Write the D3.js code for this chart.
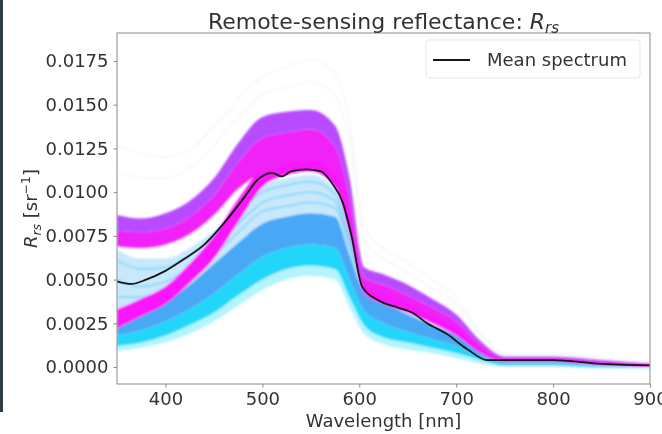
<html>
<head>
<script src="https://d3js.org/d3.v7.min.js"></script>
<style>
  body { margin: 0; background: #fff; overflow: hidden; }
  svg { display: block; }
  svg text { font-family: "DejaVu Sans", sans-serif; fill: #333; }
</style>
</head>
<body>
<script>
// wavelength grid shared by the band outlines [nm]
var wavelengths = [350, 375, 400, 425, 450, 475, 500, 525, 550, 575, 590, 605, 625, 650, 675, 700, 725, 750, 800, 850, 900];

// cyan / blue group of spectra (outlines, bottom to top)
var cyanEdge = [0.0009, 0.0011, 0.0014, 0.0019, 0.0026, 0.0035, 0.0044, 0.0050, 0.0052, 0.0050, 0.0034, 0.0019, 0.0013, 0.0010, 0.0008, 0.0005, 0.0002, 0.0000, 0.0000, -0.0001, -0.0001];
var cyanLow  = [0.0012, 0.0014, 0.0018, 0.0024, 0.0031, 0.0041, 0.0050, 0.0056, 0.0058, 0.0056, 0.0040, 0.0024, 0.0017, 0.0014, 0.0011, 0.0008, 0.0004, 0.0001, 0.0001, 0.0000, 0.0000];
var cyanMid  = [0.0018, 0.0021, 0.0026, 0.0033, 0.0042, 0.0053, 0.0063, 0.0068, 0.0070, 0.0068, 0.0050, 0.0032, 0.0025, 0.0020, 0.0016, 0.0012, 0.0006, 0.0002, 0.0002, 0.0001, 0.0000];
var blueTop  = [0.0025, 0.0030, 0.0037, 0.0047, 0.0059, 0.0071, 0.0082, 0.0086, 0.0088, 0.0086, 0.0064, 0.0043, 0.0037, 0.0030, 0.0024, 0.0018, 0.0009, 0.0003, 0.0003, 0.0002, 0.0001];
var lightTop = [0.0067, 0.0062, 0.0062, 0.0068, 0.0078, 0.0092, 0.0104, 0.0108, 0.0110, 0.0102, 0.0076, 0.0050, 0.0043, 0.0037, 0.0030, 0.0023, 0.0012, 0.0004, 0.0004, 0.0002, 0.0001];

// a few lighter single spectra inside the upper cyan part
var sparse1 = [0.0061, 0.0056, 0.0057, 0.0064, 0.0075, 0.0089, 0.0100, 0.0104, 0.0106, 0.0099, 0.0074, 0.0049, 0.0042, 0.0036, 0.0029, 0.0022, 0.0011, 0.0004, 0.0004, 0.0002, 0.0001];
var sparse2 = [0.0050, 0.0046, 0.0049, 0.0057, 0.0069, 0.0082, 0.0094, 0.0098, 0.0100, 0.0095, 0.0071, 0.0047, 0.0041, 0.0034, 0.0028, 0.0021, 0.0010, 0.0004, 0.0004, 0.0002, 0.0001];
var sparse3 = [0.0040, 0.0040, 0.0044, 0.0053, 0.0064, 0.0077, 0.0089, 0.0092, 0.0094, 0.0091, 0.0068, 0.0046, 0.0040, 0.0033, 0.0027, 0.0020, 0.0010, 0.0003, 0.0003, 0.0002, 0.0001];

// magenta group: low start at 350 nm
var magLowBottom = [0.0022, 0.0029, 0.0036, 0.0048, 0.0062, 0.0083, 0.0103, 0.0110, 0.0112, 0.0103, 0.0076, 0.0042, 0.0036, 0.0031, 0.0025, 0.0018, 0.0008, 0.0003, 0.0003, 0.0001, 0.0000];
var magLowTop    = [0.0033, 0.0039, 0.0046, 0.0059, 0.0075, 0.0096, 0.0114, 0.0120, 0.0122, 0.0114, 0.0088, 0.0049, 0.0043, 0.0038, 0.0031, 0.0023, 0.0012, 0.0005, 0.0005, 0.0003, 0.0002];
// magenta group: high start at 350 nm
var magHighBottom = [0.0069, 0.0068, 0.0070, 0.0076, 0.0087, 0.0102, 0.0111, 0.0116, 0.0118, 0.0110, 0.0084, 0.0046, 0.0041, 0.0036, 0.0029, 0.0022, 0.0010, 0.0004, 0.0004, 0.0002, 0.0001];
var magHighMid    = [0.0078, 0.0077, 0.0079, 0.0086, 0.0098, 0.0117, 0.0131, 0.0134, 0.0136, 0.0126, 0.0097, 0.0051, 0.0047, 0.0041, 0.0034, 0.0026, 0.0013, 0.0005, 0.0005, 0.0003, 0.0002];
var magHighTop    = [0.0087, 0.0085, 0.0088, 0.0095, 0.0108, 0.0128, 0.0143, 0.0146, 0.0147, 0.0138, 0.0108, 0.0057, 0.0053, 0.0047, 0.0039, 0.0030, 0.0015, 0.0006, 0.0006, 0.0004, 0.0002];

// very faint outlier spectra
var outlierA = [0.0127, 0.0122, 0.0120, 0.0124, 0.0137, 0.0153, 0.0166, 0.0172, 0.0176, 0.0168, 0.0140, 0.0080, 0.0068, 0.0060, 0.0050, 0.0040, 0.0020, 0.0008, 0.0008, 0.0005, 0.0003];
var outlierB = [0.0112, 0.0108, 0.0108, 0.0114, 0.0127, 0.0143, 0.0156, 0.0160, 0.0163, 0.0155, 0.0128, 0.0072, 0.0062, 0.0054, 0.0045, 0.0036, 0.0018, 0.0007, 0.0007, 0.0004, 0.0002];

// mean spectrum
var meanWl  = [350, 365, 380, 400, 420, 440, 460, 480, 495, 510, 520, 530, 545, 560, 572, 583, 592, 603, 620, 640, 655, 670, 690, 712, 732, 760, 800, 845, 900];
var meanRrs = [0.0049, 0.00475, 0.0050, 0.0055, 0.0062, 0.0070, 0.0082, 0.0096, 0.0107, 0.0111, 0.0109, 0.0112, 0.0113, 0.0112, 0.0105, 0.0094, 0.0075, 0.0046, 0.0038, 0.0034, 0.0031, 0.0025, 0.0019, 0.0010, 0.0004, 0.0004, 0.0004, 0.0002, 0.0001];

var xTicks = [400, 500, 600, 700, 800, 900];
var yTicks = [0, 0.0025, 0.005, 0.0075, 0.01, 0.0125, 0.015, 0.0175];

var width = 662, height = 434;
var plotL = 117, plotR = 650, plotT = 33, plotB = 384;

var x = d3.scaleLinear().domain([350, 900]).range([plotL, plotR]);
var y = d3.scaleLinear().domain([-0.00097, 0.0191]).range([plotB, plotT]);

var svg = d3.select("body").append("svg")
    .attr("width", width)
    .attr("height", height);

var defs = svg.append("defs");
defs.append("clipPath").attr("id", "plot")
  .append("rect").attr("x", plotL).attr("y", plotT)
  .attr("width", plotR - plotL).attr("height", plotB - plotT);
defs.append("filter").attr("id", "soft")
  .attr("x", "-5%").attr("y", "-5%").attr("width", "110%").attr("height", "110%")
  .append("feGaussianBlur").attr("stdDeviation", 1.3);
defs.append("filter").attr("id", "softer")
  .append("feGaussianBlur").attr("stdDeviation", 0.45);

// dark strip on the left edge of the screenshot
svg.append("rect").attr("x", 0).attr("y", 0).attr("width", 3).attr("height", 412).attr("fill", "#2f3d48");

function band(lo, hi) {
  return wavelengths.map(function (w, i) { return { w: w, lo: lo[i], hi: hi[i] }; });
}
function pts(vals) {
  return wavelengths.map(function (w, i) { return { w: w, v: vals[i] }; });
}

var area = d3.area()
    .x(function (d) { return x(d.w); })
    .y0(function (d) { return y(d.lo); })
    .y1(function (d) { return y(d.hi); })
    .curve(d3.curveMonotoneX);

var line = d3.line()
    .x(function (d) { return x(d.w); })
    .y(function (d) { return y(d.v); })
    .curve(d3.curveMonotoneX);

var plot = svg.append("g").attr("clip-path", "url(#plot)");
var spectra = plot.append("g").attr("filter", "url(#soft)");

// faint outliers
[outlierB, outlierA].forEach(function (s) {
  spectra.append("path").datum(pts(s)).attr("d", line)
    .attr("fill", "none").attr("stroke", "#e2e2ec").attr("stroke-opacity", 0.3).attr("stroke-width", 1.6);
});

var bands = [
  { lo: cyanEdge, hi: cyanLow,  color: "#a6f2ff", op: 0.85 },
  { lo: cyanLow,  hi: cyanMid,  color: "#22d6fa", op: 1 },
  { lo: cyanMid,  hi: blueTop,  color: "#4aa8f6", op: 1 },
  { lo: blueTop,  hi: lightTop, color: "#b6e0fb", op: 0.75 },
  { lo: magLowBottom, hi: magLowTop, color: "#fa14fa", op: 1 },
  { lo: magHighBottom, hi: magHighMid, color: "#f024f8", op: 1 },
  { lo: magHighMid, hi: magHighTop, color: "#b84cff", op: 1 }
];

bands.slice(0, 4).forEach(function (b) {
  spectra.append("path").datum(band(b.lo, b.hi)).attr("d", area)
    .attr("fill", b.color).attr("fill-opacity", b.op);
});

[sparse3, sparse2, sparse1].forEach(function (s) {
  spectra.append("path").datum(pts(s)).attr("d", line)
    .attr("fill", "none").attr("stroke", "#4fc4fb").attr("stroke-opacity", 0.55).attr("stroke-width", 1.6);
});

bands.slice(4).forEach(function (b) {
  spectra.append("path").datum(band(b.lo, b.hi)).attr("d", area)
    .attr("fill", b.color).attr("fill-opacity", b.op);
});

// mean spectrum
var meanPts = meanWl.map(function (w, i) { return { w: w, v: meanRrs[i] }; });
plot.append("path").datum(meanPts).attr("d", line)
  .attr("fill", "none").attr("stroke", "#151515").attr("stroke-width", 1.8)
  .attr("filter", "url(#softer)");

// frame and axes
var axes = svg.append("g").attr("filter", "url(#softer)");
axes.append("rect").attr("x", plotL).attr("y", plotT)
  .attr("width", plotR - plotL).attr("height", plotB - plotT)
  .attr("fill", "none").attr("stroke", "#8a8a8a").attr("stroke-width", 1);

var xAxis = axes.append("g").attr("transform", "translate(0," + plotB + ")")
  .call(d3.axisBottom(x).tickValues(xTicks).tickSize(3.5).tickPadding(5).tickFormat(d3.format("d")));
var yAxis = axes.append("g").attr("transform", "translate(" + plotL + ",0)")
  .call(d3.axisLeft(y).tickValues(yTicks).tickSize(3.5).tickPadding(5).tickFormat(d3.format(".4f")));
[xAxis, yAxis].forEach(function (a) {
  a.select(".domain").remove();
  a.selectAll(".tick line").attr("stroke", "#8a8a8a");
  a.selectAll(".tick text").attr("font-size", 18).attr("fill", "#333")
    .attr("font-family", "DejaVu Sans, sans-serif");
});

// title
var title = axes.append("text").attr("x", (plotL + plotR) / 2).attr("y", 29)
  .attr("text-anchor", "middle").attr("font-size", 22);
title.append("tspan").text("Remote-sensing reflectance: ");
title.append("tspan").attr("font-style", "italic").text("R");
title.append("tspan").attr("font-style", "italic").attr("font-size", 15).attr("dy", 4).text("rs");

// x label
axes.append("text").attr("x", (plotL + plotR) / 2).attr("y", 427)
  .attr("text-anchor", "middle").attr("font-size", 18).text("Wavelength [nm]");

// y label
var ylab = axes.append("text").attr("transform", "translate(37," + ((plotT + plotB) / 2) + ") rotate(-90)")
  .attr("text-anchor", "middle").attr("font-size", 18);
ylab.append("tspan").attr("font-style", "italic").text("R");
ylab.append("tspan").attr("font-style", "italic").attr("font-size", 12.5).attr("dy", 4).text("rs");
ylab.append("tspan").attr("dy", -4).text("  [sr");
ylab.append("tspan").attr("font-size", 12.5).attr("dy", -7).text("\u22121");
ylab.append("tspan").attr("dy", 7).text("]");

// legend
var legend = axes.append("g");
legend.append("rect").attr("x", 426).attr("y", 40).attr("width", 214).attr("height", 38)
  .attr("rx", 3).attr("fill", "#fff").attr("fill-opacity", 0.8)
  .attr("stroke", "#e6e6e6").attr("stroke-width", 1);
legend.append("line").attr("x1", 433).attr("x2", 470).attr("y1", 60).attr("y2", 60)
  .attr("stroke", "#151515").attr("stroke-width", 2);
legend.append("text").attr("x", 487).attr("y", 66).attr("font-size", 18).text("Mean spectrum");
</script>
</body>
</html>
